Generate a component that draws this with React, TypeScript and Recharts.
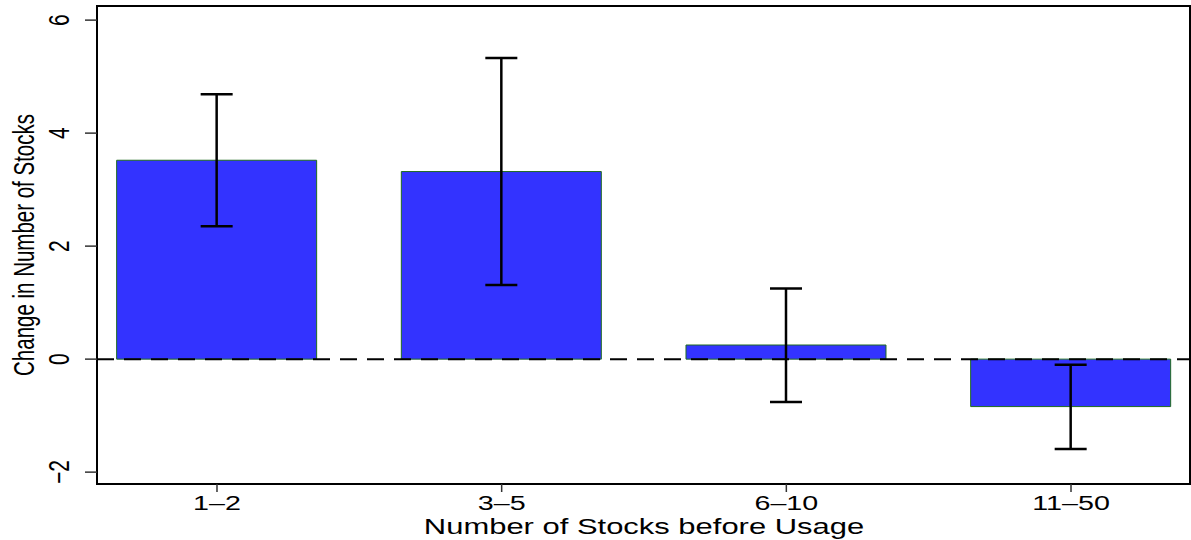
import { Bar, BarChart, ErrorBar, ReferenceArea, ReferenceLine, XAxis, YAxis } from "recharts";

const categories = ["1–2", "3–5", "6–10", "11–50"];
const means = [3.52, 3.32, 0.25, -0.84];
const lowers = [2.35, 1.31, -0.76, -1.59];
const uppers = [4.69, 5.33, 1.25, -0.1];
const yTicks = [-2, 0, 2, 4, 6];

const data = categories.map((label, i) => ({
  pos: i + 1,
  label,
  mean: means[i],
  err: [means[i] - lowers[i], uppers[i] - means[i]],
}));

const X_DOMAIN: [number, number] = [0.5785, 4.418];
const Y_DOMAIN: [number, number] = [-2.21, 6.25];
const FONT = '"Liberation Sans", Arial, Helvetica, sans-serif';
const STRETCH = 1.4;

function XTick({ x, y, payload }: any) {
  return (
    <text
      transform={`translate(${x}, ${y + 16}) scale(${STRETCH}, 1)`}
      textAnchor="middle"
      fontFamily={FONT}
      fontSize={20.5}
      fill="#000"
    >
      {categories[payload.value - 1]}
    </text>
  );
}

function YTick({ y, payload }: any) {
  const v = payload.value;
  return (
    <text
      transform={`translate(69, ${y}) scale(${STRETCH}, 1) rotate(-90)`}
      textAnchor="middle"
      fontFamily={FONT}
      fontSize={21}
      fill="#000"
    >
      {v < 0 ? `−${Math.abs(v)}` : String(v)}
    </text>
  );
}

export default function App() {
  return (
    <div style={{ position: "absolute", left: 0, top: 0, width: 1191, height: 540, background: "#fff" }}>
      <BarChart width={1191} height={540} data={data} margin={{ top: 6, right: 1, bottom: 0, left: 0 }}>
        <XAxis
          dataKey="pos"
          type="number"
          domain={X_DOMAIN}
          ticks={[1, 2, 3, 4]}
          allowDataOverflow
          height={56}
          axisLine={false}
          tickSize={8}
          tickLine={{ stroke: "#333", strokeWidth: 1.5 }}
          tick={<XTick />}
          interval={0}
        />
        <YAxis
          type="number"
          domain={Y_DOMAIN}
          ticks={yTicks}
          allowDataOverflow
          width={97}
          axisLine={false}
          tickSize={12}
          tickLine={{ stroke: "#333", strokeWidth: 1.5 }}
          tick={<YTick />}
          interval={0}
        />
        <Bar dataKey="mean" fill="#3333ff" stroke="#1f6b1f" strokeWidth={1} barSize={200} isAnimationActive={false}>
          <ErrorBar dataKey="err" direction="y" width={16} stroke="#000" strokeWidth={2.5} isAnimationActive={false} />
        </Bar>
        <ReferenceLine y={0} stroke="#000" strokeWidth={2} strokeDasharray="17 10" />
        <ReferenceArea
          x1={X_DOMAIN[0]}
          x2={X_DOMAIN[1]}
          y1={Y_DOMAIN[0]}
          y2={Y_DOMAIN[1]}
          fill="none"
          stroke="#000"
          strokeWidth={2}
          ifOverflow="visible"
        />
        <text
          transform={`translate(644, 534) scale(1.44, 1)`}
          textAnchor="middle"
          fontFamily={FONT}
          fontSize={21.5}
          fill="#000"
        >
          Number of Stocks before Usage
        </text>
        <text
          transform={`translate(34, 245) scale(${STRETCH}, 1) rotate(-90)`}
          textAnchor="middle"
          fontFamily={FONT}
          fontSize={20.5}
          fill="#000"
        >
          Change in Number of Stocks
        </text>
      </BarChart>
    </div>
  );
}
